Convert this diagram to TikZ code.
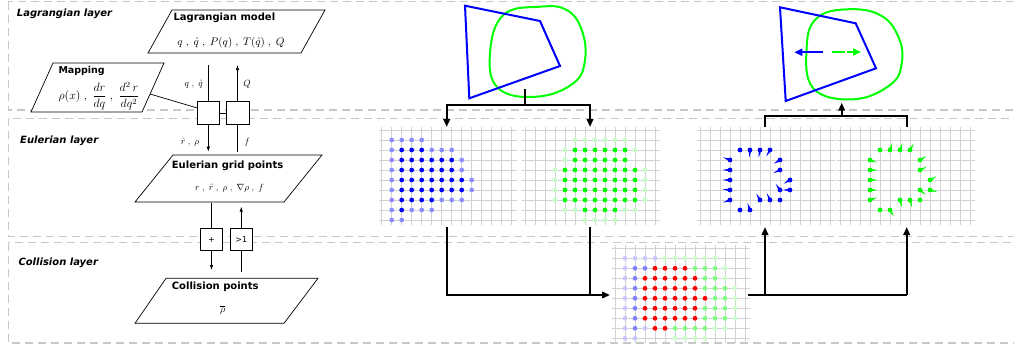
\documentclass[tikz,border=0pt]{standalone}
\usepackage{amsmath}
\usepackage{fontspec}
\newfontfamily\dvs{DejaVu Sans}[BoldFont={DejaVu Sans Bold},BoldItalicFont={DejaVu Sans Bold Oblique},ItalicFont={DejaVu Sans Oblique}]
\usetikzlibrary{arrows.meta,calc}
\definecolor{dashgray}{RGB}{200,200,200}
\definecolor{gridgray}{RGB}{210,210,210}
\definecolor{bdark}{RGB}{0,0,255}
\definecolor{blight}{RGB}{140,140,255}
\definecolor{gdark}{RGB}{0,255,0}
\definecolor{glight}{RGB}{200,255,200}
\definecolor{clav}{RGB}{200,200,255}
\definecolor{cbmed}{RGB}{130,130,255}
\definecolor{cred}{RGB}{255,0,0}
\definecolor{cgmed}{RGB}{128,255,128}
\definecolor{cgpale}{RGB}{205,255,205}
\newcommand\laylabfont{\dvs\bfseries\itshape\fontsize{10}{12}\selectfont}
\newcommand\ttlfont{\dvs\bfseries\fontsize{10}{12}\selectfont}
\newcommand\dgrid[2]{%
  \foreach \k in {0,...,13}{\draw[gridln] ({#1+10*\k},{#2-3}) -- ({#1+10*\k},{#2+95});}
  \foreach \k in {0,...,9}{\draw[gridln] ({#1-3},{#2+10*\k}) -- ({#1+135},{#2+10*\k});}}
\newcommand\dotrun[5]{\foreach \jj in {#3,...,#4}{\fill[#5] ({#1+10*\jj},#2) circle (2.4);}}
\newcommand\qwedge[4]{%
  \fill[#4] ($(#1,#2)+(#3+90:1.4)$) -- ($(#1,#2)+(#3:7.5)$) -- ($(#1,#2)+(#3-90:1.4)$) -- cycle;
  \fill[#4] (#1,#2) circle (2.4);}
\begin{document}
\begin{tikzpicture}[x=1pt,y=-1pt,
  layerbox/.style={draw=dashgray,line width=1.2pt,dash pattern=on 8pt off 5pt},
  laylabel/.style={font=\laylabfont,anchor=west,inner sep=0pt},
  ttl/.style={font=\ttlfont,anchor=west,inner sep=0pt},
  pbox/.style={draw=black,fill=white,line width=0.7pt},
  sbox/.style={draw=black,fill=white,line width=0.7pt,inner sep=0pt,minimum width=22pt,minimum height=22.6pt},
  thinln/.style={draw=black,line width=0.7pt},
  thinarr/.style={thinln,-{Latex[length=5pt,width=3.5pt]}},
  conn/.style={draw=black,line width=2pt},
  connarr/.style={conn,-{Triangle[length=8pt,width=6.5pt]}},
  gridln/.style={draw=gridgray,line width=0.9pt},
  bshape/.style={draw=bdark,line width=2pt,line join=miter},
  gshape/.style={draw=gdark,line width=2pt},
  mathlbl/.style={inner sep=0pt,font=\fontsize{9}{10}\selectfont},
]
\useasboundingbox (0,0) rectangle (1014,346);
\clip (0,0) rectangle (1014,346);
% layers
\draw[layerbox] (8.3,1.7) rectangle (1040,110);
\draw[layerbox] (8.3,118.3) rectangle (1040,236.7);
\draw[layerbox] (8.3,242.7) rectangle (1040,343);
\node[laylabel] (lagl) at (16.7,14) {Lagrangian layer};
\node[laylabel] (eull) at (20,141) {Eulerian layer};
\node[laylabel] (coll) at (18.3,262.7) {Collision layer};
% Lagrangian model
\draw[pbox] (172,10) -- (325,10) -- (301,53) -- (148,53) -- cycle;
\node[ttl] (lagt) at (173.3,17.5) {Lagrangian model};
\node[inner sep=0pt,font=\fontsize{10.5}{12}\selectfont] (lagm) at (231,43) {$q\;,\;\mathring{q}\;,\;P(q)\;,\;T(\mathring{q})\;,\;Q$};
% Mapping
\draw[pbox] (53,63) -- (164,63) -- (142,112) -- (31,112) -- cycle;
\node[ttl,font=\dvs\bfseries\fontsize{9.5}{11}\selectfont] (mapt) at (58.3,71) {Mapping};
\node[inner sep=0pt,font=\fontsize{11.5}{13}\selectfont] (mapm) at (99,96) {$\displaystyle \rho(x)\;,\;\frac{dr}{dq}\;,\;\frac{d^2\,r}{dq^2}$};
% Eulerian grid points
\draw[pbox] (173,155) -- (322,155) -- (284,202) -- (135,202) -- cycle;
\node[ttl] (eult) at (171.7,165.7) {Eulerian grid points};
\node[inner sep=0pt,font=\fontsize{9}{10}\selectfont] (eulm) at (229.5,188.3) {$r\;,\;\mathring{r}\;,\;\rho\;,\;\nabla\rho\;,\;f$};
% Collision points
\draw[pbox] (166,278.3) -- (318,278.3) -- (284,323.3) -- (135,323.3) -- cycle;
\node[ttl] (colt) at (171.7,286.7) {Collision points};
\node[inner sep=0pt,font=\fontsize{10}{12}\selectfont] (colm) at (222.7,310) {$\overline{\rho}$};
% small boxes
\node[sbox] (b1) at (208.3,113) {};
\node[sbox,minimum width=23pt] (b2) at (237.5,113) {};
\draw[thinln] (b1.east) -- (b2.west);
\coordinate (lagL) at (208.3,65);
\coordinate (lagR) at (237.5,65);
\coordinate (eulL) at (208.3,151.7);
\coordinate (eulR) at (237.5,151.7);
\draw[thinln] (lagL) -- (b1.north);
\draw[thinarr] (b2.north) -- (lagR);
\draw[thinarr] (b1.south) -- (eulL);
\draw[thinln] (eulR) -- (b2.south);
\coordinate (mapR) at (150,94);
\coordinate (b1in) at (197.3,108);
\draw[thinln] (mapR) -- (b1in);
\node[mathlbl,anchor=east] (lq) at (203,84) {$q\;,\;\mathring{q}$};
\node[mathlbl] (lQ) at (247,84) {$Q$};
\node[mathlbl] (lr) at (190,142) {$\mathring{r}\;,\;\rho$};
\node[mathlbl] (lf) at (247,142) {$f$};
% plus / >1 boxes
\node[sbox,minimum width=21.6pt,font=\dvs\fontsize{8}{9}\selectfont] (bp) at (211.5,239.5) {+};
\node[sbox,font=\dvs\fontsize{8}{9}\selectfont] (bg) at (241.2,239.5) {>1};
\coordinate (eulB) at (211.5,203);
\coordinate (colL) at (211.5,270);
\coordinate (colR) at (241.2,271.7);
\coordinate (eulB2) at (241.2,206.7);
\draw[thinln] (eulB) -- (bp.north);
\draw[thinarr] (bp.south) -- (colL);
\draw[thinln] (colR) -- (bg.south);
\draw[thinarr] (bg.north) -- (eulB2);
% ---------- right part ----------
\dgrid{381.7}{130}
\dgrid{525}{130}
\dgrid{700}{130}
\dgrid{840}{130}
\dgrid{615}{248.3}
% grid 1 dots
\dotrun{391.7}{140}{0}{3}{blight}
\dotrun{391.7}{150}{0}{0}{blight}\dotrun{391.7}{150}{1}{3}{bdark}\dotrun{391.7}{150}{4}{6}{blight}
\dotrun{391.7}{160}{0}{0}{blight}\dotrun{391.7}{160}{1}{6}{bdark}\dotrun{391.7}{160}{7}{7}{blight}
\dotrun{391.7}{170}{0}{0}{blight}\dotrun{391.7}{170}{1}{6}{bdark}\dotrun{391.7}{170}{7}{7}{blight}
\dotrun{391.7}{180}{0}{0}{blight}\dotrun{391.7}{180}{1}{7}{bdark}\dotrun{391.7}{180}{8}{8}{blight}
\dotrun{391.7}{190}{0}{0}{blight}\dotrun{391.7}{190}{1}{7}{bdark}\dotrun{391.7}{190}{8}{8}{blight}
\dotrun{391.7}{200}{0}{0}{blight}\dotrun{391.7}{200}{1}{4}{bdark}\dotrun{391.7}{200}{5}{7}{blight}
\dotrun{391.7}{210}{0}{0}{blight}\dotrun{391.7}{210}{1}{1}{bdark}\dotrun{391.7}{210}{2}{4}{blight}
\dotrun{391.7}{220}{0}{1}{blight}
% grid 2 dots
\dotrun{535}{140}{4}{9}{glight}
\dotrun{535}{150}{3}{3}{glight}\dotrun{535}{150}{4}{9}{gdark}\dotrun{535}{150}{10}{10}{glight}
\dotrun{535}{160}{3}{3}{glight}\dotrun{535}{160}{4}{9}{gdark}
\foreach \yy in {170,180,190,200}{\dotrun{535}{\yy}{2}{2}{glight}\dotrun{535}{\yy}{3}{10}{gdark}\dotrun{535}{\yy}{11}{11}{glight}}
\dotrun{535}{210}{3}{4}{glight}\dotrun{535}{210}{5}{8}{gdark}\dotrun{535}{210}{9}{10}{glight}
\dotrun{535}{220}{5}{8}{glight}
% collision dots
\dotrun{625}{258.3}{0}{3}{clav}\dotrun{625}{258.3}{4}{9}{cgpale}
\dotrun{625}{268.3}{0}{0}{clav}\dotrun{625}{268.3}{1}{2}{cbmed}\dotrun{625}{268.3}{3}{6}{cred}\dotrun{625}{268.3}{7}{9}{cgmed}\dotrun{625}{268.3}{10}{10}{cgpale}
\dotrun{625}{278.3}{0}{0}{clav}\dotrun{625}{278.3}{1}{1}{cbmed}\dotrun{625}{278.3}{2}{7}{cred}\dotrun{625}{278.3}{8}{9}{cgmed}\dotrun{625}{278.3}{10}{10}{cgpale}
\dotrun{625}{288.3}{0}{0}{clav}\dotrun{625}{288.3}{1}{1}{cbmed}\dotrun{625}{288.3}{2}{7}{cred}\dotrun{625}{288.3}{8}{10}{cgmed}\dotrun{625}{288.3}{11}{11}{cgpale}
\dotrun{625}{298.3}{0}{0}{clav}\dotrun{625}{298.3}{1}{1}{cbmed}\dotrun{625}{298.3}{2}{8}{cred}\dotrun{625}{298.3}{9}{10}{cgmed}\dotrun{625}{298.3}{11}{11}{cgpale}
\foreach \yy in {308.3,318.3}{\dotrun{625}{\yy}{0}{0}{clav}\dotrun{625}{\yy}{1}{1}{cbmed}\dotrun{625}{\yy}{2}{7}{cred}\dotrun{625}{\yy}{8}{10}{cgmed}\dotrun{625}{\yy}{11}{11}{cgpale}}
\dotrun{625}{328.3}{0}{0}{clav}\dotrun{625}{328.3}{1}{1}{cbmed}\dotrun{625}{328.3}{2}{2}{clav}\dotrun{625}{328.3}{3}{4}{cred}\dotrun{625}{328.3}{5}{8}{cgmed}\dotrun{625}{328.3}{9}{10}{cgpale}
\dotrun{625}{338.3}{0}{1}{clav}\dotrun{625}{338.3}{5}{8}{cgpale}
% quiver grids
\foreach \qx/\qy in {740/150,780/200,740/210}{\fill[bdark] (\qx,\qy) circle (2.4);}
\foreach \qx/\qy/\qa in {750/150/95,760/150/100,770/150/120,730/160/200,780/160/150,730/170/180,780/170/155,730/180/180,790/180/150,730/190/185,780/190/235,790/190/180,730/200/160,760/200/240,770/200/245,750/210/250}{\qwedge{\qx}{\qy}{\qa}{bdark}}
\foreach \qx/\qy in {880/150,920/200,880/210}{\fill[gdark] (\qx,\qy) circle (2.4);}
\foreach \qx/\qy/\qa in {890/150/290,900/150/290,910/150/300,870/160/20,920/160/330,870/170/0,920/170/335,870/180/0,930/180/330,870/190/0,920/190/40,930/190/15,870/200/340,900/200/75,910/200/75,890/210/60}{\qwedge{\qx}{\qy}{\qa}{gdark}}
% shapes left
\draw[gshape] plot[smooth cycle,tension=0.7] coordinates {(540,6.7) (566.7,10) (581.7,30) (585,60) (573.3,83.3) (536.7,96.7) (498.3,88.3) (490,53.3) (503.3,15)};
\draw[bshape] (465,5.7) -- (540,21) -- (560,66) -- (469.3,98.3) -- cycle;
% shapes right
\draw[gshape] plot[smooth cycle,tension=0.7] coordinates {(846.7,9.3) (880,15) (898.3,36.7) (901.7,63.3) (890,85) (853.3,99.3) (813.3,88.3) (806.7,46.7) (816.7,18.3)};
\draw[bshape] (780,7.3) -- (855.7,23.3) -- (876,68.3) -- (785.7,101) -- cycle;
\coordinate (ba0) at (823.3,52.3);
\coordinate (ba1) at (794.3,52.3);
\coordinate (ga0) at (831.7,52);
\coordinate (ga1) at (861,52);
\draw[draw=bdark,line width=2.3pt,-{Triangle[length=8pt,width=7pt]}] (ba0) -- (ba1);
\draw[draw=gdark,line width=2.3pt,dash pattern=on 13pt off 2.5pt,-{Triangle[length=8pt,width=7pt]}] (ga0) -- (ga1);
% connectors
\coordinate (s1) at (525,89.3);
\coordinate (j1) at (525,105);
\coordinate (g1t) at (446.7,127);
\coordinate (g2t) at (590,127);
\draw[conn] (s1) -- (j1);
\draw[connarr] (j1) -| (g1t);
\draw[connarr] (j1) -| (g2t);
\coordinate (g1b) at (446.7,227);
\coordinate (g2b) at (590,227);
\coordinate (cl) at (610,295);
\draw[connarr] (g1b) |- (cl);
\draw[conn] (g2b) -- (590,295);
\coordinate (cr) at (748.3,295);
\coordinate (g3b) at (765,227);
\coordinate (g4b) at (906.7,227);
\coordinate (j3) at (906.7,295);
\draw[conn] (cr) -- (j3);
\draw[connarr] (765,295) -- (g3b);
\draw[connarr] (j3) -- (g4b);
\coordinate (g3t) at (765,127);
\coordinate (g4t) at (906.7,127);
\coordinate (j4) at (841.7,116);
\coordinate (s2) at (841.7,102.7);
\draw[conn] (g3t) |- (g4t |- j4) -- (g4t);
\draw[connarr] (j4) -- (s2);
\end{tikzpicture}
\end{document}
